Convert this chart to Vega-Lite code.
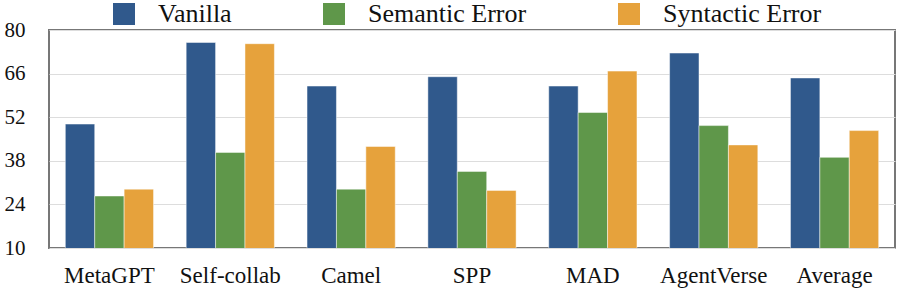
{
  "$schema": "https://vega.github.io/schema/vega-lite/v6.json",
  "width": 846,
  "height": 218,
  "autosize": "none",
  "padding": {"left": 49, "top": 30, "right": 2, "bottom": 41},
  "background": "white",
  "config": {
    "font": "Liberation Serif",
    "view": {"stroke": "#777777", "strokeWidth": 2},
    "axis": {"domain": false, "ticks": false, "labelColor": "#111111", "labelFont": "Liberation Serif"},
    "legend": {"labelFont": "Liberation Serif"}
  },
  "data": {
    "values": [
      {"method": "MetaGPT", "type": "Vanilla", "value": 49.8},
      {"method": "MetaGPT", "type": "Semantic Error", "value": 26.7},
      {"method": "MetaGPT", "type": "Syntactic Error", "value": 28.9},
      {"method": "Self-collab", "type": "Vanilla", "value": 76.0},
      {"method": "Self-collab", "type": "Semantic Error", "value": 40.7},
      {"method": "Self-collab", "type": "Syntactic Error", "value": 75.6},
      {"method": "Camel", "type": "Vanilla", "value": 62.0},
      {"method": "Camel", "type": "Semantic Error", "value": 28.9},
      {"method": "Camel", "type": "Syntactic Error", "value": 42.6},
      {"method": "SPP", "type": "Vanilla", "value": 65.0},
      {"method": "SPP", "type": "Semantic Error", "value": 34.6},
      {"method": "SPP", "type": "Syntactic Error", "value": 28.5},
      {"method": "MAD", "type": "Vanilla", "value": 62.0},
      {"method": "MAD", "type": "Semantic Error", "value": 53.5},
      {"method": "MAD", "type": "Syntactic Error", "value": 66.8},
      {"method": "AgentVerse", "type": "Vanilla", "value": 72.6},
      {"method": "AgentVerse", "type": "Semantic Error", "value": 49.3},
      {"method": "AgentVerse", "type": "Syntactic Error", "value": 43.1},
      {"method": "Average", "type": "Vanilla", "value": 64.6},
      {"method": "Average", "type": "Semantic Error", "value": 39.1},
      {"method": "Average", "type": "Syntactic Error", "value": 47.7}
    ]
  },
  "mark": {"type": "bar", "clip": true, "stroke": "#ffffff", "strokeOpacity": 0.6, "strokeWidth": 0.8},
  "encoding": {
    "x": {
      "field": "method",
      "type": "nominal",
      "sort": null,
      "title": null,
      "scale": {"paddingInner": 0.27, "paddingOuter": 0.135},
      "axis": {"labelAngle": 0, "labelFontSize": 23, "labelPadding": 16, "grid": false, "labelFont": "Liberation Serif"}
    },
    "xOffset": {
      "field": "type",
      "type": "nominal",
      "sort": ["Vanilla", "Semantic Error", "Syntactic Error"],
      "scale": {"paddingInner": 0, "paddingOuter": 0}
    },
    "y": {
      "field": "value",
      "type": "quantitative",
      "title": null,
      "scale": {"domain": [10, 80], "nice": false, "zero": false},
      "axis": {
        "values": [10, 24, 38, 52, 66, 80],
        "labelFont": "Liberation Serif",
        "labelFontSize": 21,
        "labelPadding": 24,
        "grid": true,
        "gridColor": "#dddddd",
        "gridWidth": 1
      }
    },
    "color": {
      "field": "type",
      "type": "nominal",
      "sort": ["Vanilla", "Semantic Error", "Syntactic Error"],
      "scale": {
        "domain": ["Vanilla", "Semantic Error", "Syntactic Error"],
        "range": ["#30598c", "#5f974a", "#e6a23c"]
      },
      "legend": {
        "orient": "none",
        "legendX": 62,
        "legendY": -29,
        "direction": "horizontal",
        "title": null,
        "symbolType": "square",
        "symbolSize": 484,
        "symbolStrokeWidth": 0,
        "labelFont": "Liberation Serif",
        "labelFontSize": 26,
        "labelOffset": 21,
        "labelLimit": 400,
        "columnPadding": 89,
        "labelColor": "#111111"
      }
    }
  }
}
